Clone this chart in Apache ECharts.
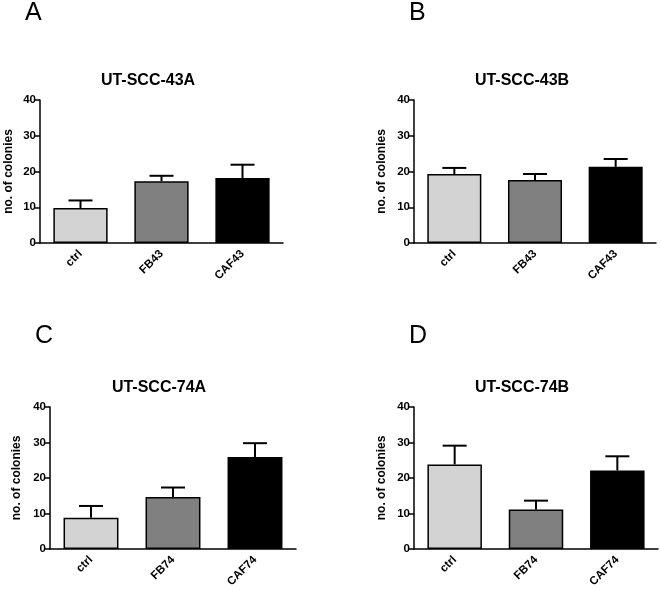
<!DOCTYPE html>
<html>
<head>
<meta charset="utf-8">
<script src="https://cdn.jsdelivr.net/npm/echarts@6/dist/echarts.min.js"></script>
<style>html,body{margin:0;padding:0;background:#fff}#c{width:661px;height:590px}</style>
</head>
<body>
<div id="c"></div>
<script>
var categories43 = ['ctrl', 'FB43', 'CAF43'];
var categories74 = ['ctrl', 'FB74', 'CAF74'];
var panelTitles = ['UT-SCC-43A', 'UT-SCC-43B', 'UT-SCC-74A', 'UT-SCC-74B'];
var panelLetters = ['A', 'B', 'C', 'D'];
var yTicks = [0, 10, 20, 30, 40];
var yAxisName = 'no. of colonies';

var meansA = [9.8, 17.3, 18.2];
var semA   = [2.1, 1.5, 3.7];
var meansB = [19.3, 17.6, 21.3];
var semB   = [1.7, 1.7, 2.2];
var meansC = [8.8, 14.6, 25.9];
var semC   = [3.3, 2.7, 3.9];
var meansD = [23.8, 11.1, 22.1];
var semD   = [5.3, 2.5, 4.0];

var barColors = ['#d3d3d3', '#808080', '#000000'];
var FONT = 'Liberation Sans, Arial, sans-serif';

var panels = [
  {cats: categories43, means: meansA, sem: semA, grid: {left: 40, top: 100, width: 243, height: 143}, titleX: 148, titleY: 73, letterX: 25, letterY: 1, nameGap: 25},
  {cats: categories43, means: meansB, sem: semB, grid: {left: 414, top: 100, width: 242, height: 143}, titleX: 522, titleY: 73, letterX: 409, letterY: 1, nameGap: 26},
  {cats: categories74, means: meansC, sem: semC, grid: {left: 50, top: 407, width: 246, height: 142}, titleX: 159, titleY: 380, letterX: 35, letterY: 324, nameGap: 27},
  {cats: categories74, means: meansD, sem: semD, grid: {left: 414, top: 407, width: 244, height: 142}, titleX: 522, titleY: 380, letterX: 409, letterY: 324, nameGap: 26}
];

var option = {
  animation: false,
  backgroundColor: '#fff',
  title: [], grid: [], xAxis: [], yAxis: [], series: []
};

panels.forEach(function (p, i) {
  option.title.push({
    text: panelTitles[i], left: p.titleX, top: p.titleY, textAlign: 'center', padding: 0,
    textStyle: {fontFamily: FONT, fontWeight: 'bold', fontSize: 16, color: '#000'}
  });
  option.title.push({
    text: panelLetters[i], left: p.letterX, top: p.letterY, padding: 0,
    textStyle: {fontFamily: FONT, fontWeight: 'normal', fontSize: 25, color: '#000'}
  });
  option.grid.push(Object.assign({containLabel: false}, p.grid));
  option.xAxis.push({
    type: 'category', gridIndex: i, data: p.cats,
    axisLine: {lineStyle: {color: '#000', width: 1.5}},
    axisTick: {alignWithLabel: true, length: 6, lineStyle: {color: '#000', width: 1.5}},
    axisLabel: {rotate: 45, margin: 9, fontFamily: FONT, fontWeight: 'bold', fontSize: 11.5, color: '#000'}
  });
  option.yAxis.push({
    type: 'value', gridIndex: i, min: yTicks[0], max: yTicks[yTicks.length - 1], interval: 10,
    name: yAxisName, nameLocation: 'middle', nameGap: p.nameGap,
    nameTextStyle: {fontFamily: FONT, fontWeight: 'bold', fontSize: 12, color: '#000'},
    splitLine: {show: false},
    axisLine: {show: true, lineStyle: {color: '#000', width: 1.5}},
    axisTick: {show: true, length: 5, lineStyle: {color: '#000', width: 1.5}},
    axisLabel: {margin: 4, fontFamily: FONT, fontWeight: 'bold', fontSize: 11.5, color: '#000'}
  });
  option.series.push({
    type: 'bar', xAxisIndex: i, yAxisIndex: i, barCategoryGap: '33%',
    data: p.means.map(function (v, k) {
      return {value: v, itemStyle: {color: barColors[k], borderColor: '#000', borderWidth: 1.5}};
    }),
    z: 2
  });
  option.series.push({
    type: 'custom', xAxisIndex: i, yAxisIndex: i, z: 3,
    encode: {x: 0, y: 1},
    data: p.means.map(function (v, k) { return [k, v, p.sem[k]]; }),
    renderItem: function (params, api) {
      var x = api.value(0), m = api.value(1), e = api.value(2);
      var p0 = api.coord([x, m]);
      var p1 = api.coord([x, m + e]);
      var hw = 12;
      return {
        type: 'group',
        children: [
          {type: 'line', shape: {x1: p0[0], y1: p0[1], x2: p1[0], y2: p1[1]}, style: {stroke: '#000', lineWidth: 2}},
          {type: 'line', shape: {x1: p1[0] - hw, y1: p1[1], x2: p1[0] + hw, y2: p1[1]}, style: {stroke: '#000', lineWidth: 2}}
        ]
      };
    }
  });
});

var chart = echarts.init(document.getElementById('c'), null, {renderer: 'canvas'});
chart.setOption(option);
</script>
</body>
</html>
